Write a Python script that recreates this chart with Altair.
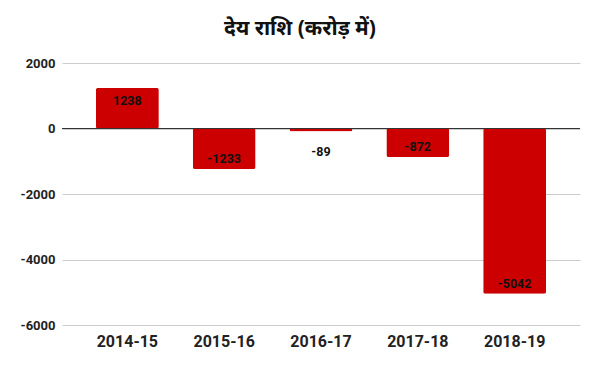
import altair as alt
import pandas as pd

years = ["2014-15", "2015-16", "2016-17", "2017-18", "2018-19"]
values = [1238, -1233, -89, -872, -5042]
y_ticks = [-6000, -4000, -2000, 0, 2000]

df = pd.DataFrame({"year": years, "value": values})
df["label"] = df["value"].astype(str)

x_enc = alt.X("year:N", sort=years, title=None,
              scale=alt.Scale(paddingInner=0.35, paddingOuter=0.35),
              axis=alt.Axis(labelAngle=0, labelFont="Roboto", labelFontWeight="bold",
                            labelFontSize=16, labelColor="#222222", labelPadding=8,
                            ticks=False, domain=False, grid=False))
y_scale = alt.Scale(domain=[-6000, 2000], nice=False)

base = alt.Chart(df)

bars = base.mark_bar(color="#cc0000", cornerRadius=2).encode(
    x=x_enc,
    y=alt.Y("value:Q", scale=y_scale, title=None,
            axis=alt.Axis(values=y_ticks, labelExpr="'' + datum.value", labelFont="Roboto",
                          labelFontWeight="bold", labelFontSize=13, labelColor="#222222",
                          labelPadding=7, ticks=False, domain=False, gridColor="#cccccc")),
)

zero = alt.Chart(pd.DataFrame({"z": [0]})).mark_rule(color="#333333", strokeWidth=1).encode(
    y=alt.Y("z:Q", scale=y_scale)
)

txt_style = dict(font="Roboto", fontWeight="bold", fontSize=12.5, color="#111111", baseline="middle")

pos_lbl = base.transform_filter("datum.value > 0").mark_text(dy=13, **txt_style).encode(
    x=alt.X("year:N", sort=years), y=alt.Y("value:Q", scale=y_scale), text="label:N")
neg_lbl = base.transform_filter("datum.value < -300").mark_text(dy=-10, **txt_style).encode(
    x=alt.X("year:N", sort=years), y=alt.Y("value:Q", scale=y_scale), text="label:N")
small_lbl = base.transform_filter("datum.value <= 0 && datum.value >= -300").mark_text(dy=21, **txt_style).encode(
    x=alt.X("year:N", sort=years), y=alt.Y("value:Q", scale=y_scale), text="label:N")

chart = alt.layer(bars, zero, pos_lbl, neg_lbl, small_lbl).properties(
    width=518, height=262,
    title=alt.TitleParams("देय राशि (करोड़ में)", font="Noto Sans", fontSize=21,
                          fontWeight="bold", color="#111111", dx=-21, offset=18),
    autosize=alt.AutoSizeParams(type="none"),
    padding={"left": 54, "top": 55, "right": 12, "bottom": 38},
).configure_view(stroke=None)

chart.save("out.html", embed_options={"renderer": "svg", "actions": False})
